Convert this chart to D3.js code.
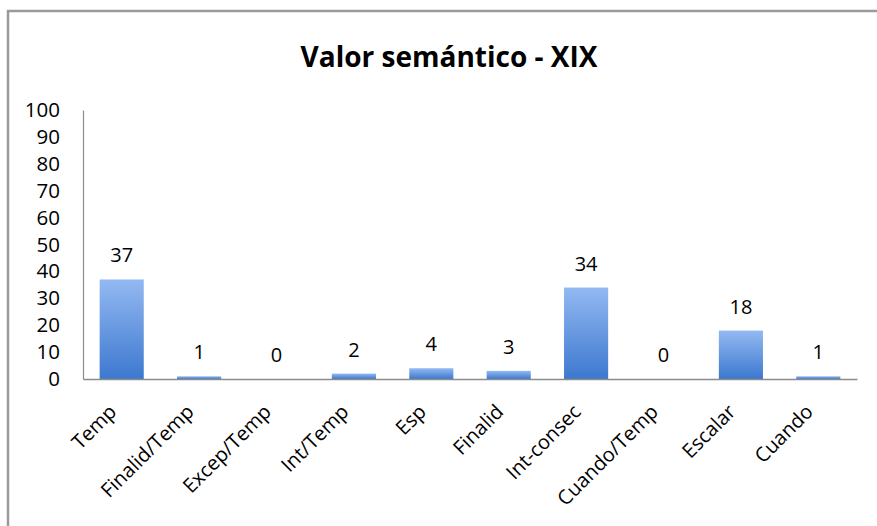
<!DOCTYPE html>
<html>
<head>
<meta charset="utf-8">
<script src="https://cdn.jsdelivr.net/npm/d3@7"></script>
<style>
  html, body { margin: 0; padding: 0; background: #fff; }
  svg { display: block; }
  text { font-family: "Open Sans", "Liberation Sans", sans-serif; fill: #000; }
</style>
</head>
<body>
<script>
// Frequency of each semantic value (19th century)
const categories = ["Temp", "Finalid/Temp", "Excep/Temp", "Int/Temp", "Esp",
                    "Finalid", "Int-consec", "Cuando/Temp", "Escalar", "Cuando"];
const values = [37, 1, 0, 2, 4, 3, 34, 0, 18, 1];
const yTicks = [0, 10, 20, 30, 40, 50, 60, 70, 80, 90, 100];
const title = "Valor semántico - XIX";

const W = 877, H = 526;
const margin = { left: 83, right: 20, top: 110, bottom: 147 };

const svg = d3.select("body").append("svg").attr("width", W).attr("height", H);

// gradient fill for the bars
const defs = svg.append("defs");
const grad = defs.append("linearGradient").attr("id", "barGrad")
  .attr("x1", 0).attr("y1", 0).attr("x2", 0).attr("y2", 1);
grad.append("stop").attr("offset", "0%").attr("stop-color", "#93b9f2");
grad.append("stop").attr("offset", "100%").attr("stop-color", "#3d78cf");

// outer frame
svg.append("path")
  .attr("d", `M8,${H} L8,11 L${W},11`)
  .attr("fill", "none").attr("stroke", "#9a9a9a").attr("stroke-width", 2.5);

const x = d3.scaleBand().domain(categories)
  .range([margin.left, 857]).paddingInner(0.43).paddingOuter(0.215);
const y = d3.scaleLinear().domain([0, 100]).range([379, 110]);

// title
svg.append("text")
  .attr("x", 449).attr("y", 67)
  .attr("text-anchor", "middle")
  .style("font-size", "28px").style("font-weight", "bold")
  .text(title);

// bars
svg.append("g").selectAll("rect").data(values).join("rect")
  .attr("x", (d, i) => x(categories[i]))
  .attr("y", d => y(d))
  .attr("width", x.bandwidth())
  .attr("height", d => Math.max(0, y(0) - y(d)))
  .attr("fill", "url(#barGrad)");

// value labels
svg.append("g").selectAll("text").data(values).join("text")
  .attr("x", (d, i) => x(categories[i]) + x.bandwidth() / 2)
  .attr("y", d => y(d) - 17)
  .attr("text-anchor", "middle")
  .style("font-size", "20px")
  .text(d => d);

// y axis
const yAxis = d3.axisLeft(y).tickValues(yTicks).tickSize(0).tickPadding(23);
const gy = svg.append("g").attr("transform", `translate(${margin.left},0)`).call(yAxis);
gy.select(".domain").attr("stroke", "#8c8c8c").attr("stroke-width", 1.2);
gy.selectAll(".tick text").style("font-size", "20.5px").style("font-family", "'Open Sans', sans-serif").attr("fill", "#000");

// x axis
const xAxis = d3.axisBottom(x).tickSize(0).tickPadding(0);
const gx = svg.append("g").attr("transform", `translate(0,${y(0)})`).call(xAxis);
gx.select(".domain").attr("stroke", "#8c8c8c").attr("stroke-width", 1.5);
gx.selectAll(".tick text")
  .style("font-size", "20px").style("font-family", "'Open Sans', sans-serif").attr("fill", "#000")
  .attr("text-anchor", "end")
  .attr("dy", null)
  .attr("transform", "translate(-4,34) rotate(-45)");
</script>
</body>
</html>
